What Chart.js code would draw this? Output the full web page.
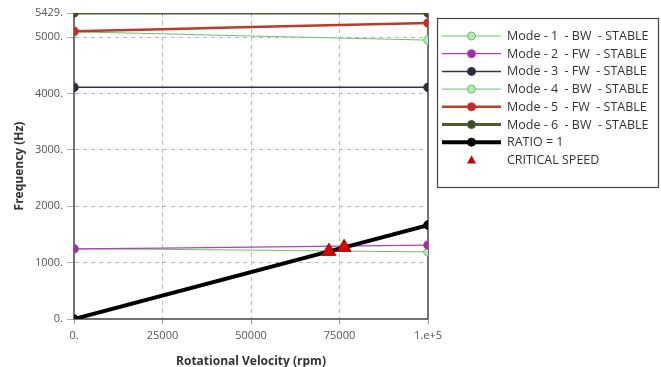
<!DOCTYPE html>
<html>
<head>
<meta charset="utf-8">
<script src="https://cdn.jsdelivr.net/npm/chart.js@4.4.1/dist/chart.umd.min.js"></script>
<style>
html,body{margin:0;padding:0;background:#fff;}
#wrap{width:661px;height:367px;position:relative;}
</style>
</head>
<body>
<div id="wrap"><canvas id="c" width="661" height="367"></canvas></div>
<script>
// ---- data ----
const speeds = [0, 25000, 50000, 75000, 100000];
const mode1 = [1245, 1235, 1222, 1205, 1191];
const mode2 = [1245, 1258, 1275, 1292, 1311];
const mode3 = [4110, 4110, 4110, 4110, 4110];
const mode4 = [5095, 5060, 5020, 4985, 4948];
const mode5 = [5105, 5140, 5180, 5215, 5252];
const mode6 = [5429, 5429, 5429, 5429, 5429];
const ratioSpeeds = [0, 100000];
const ratioFreq = [0, 1666.7];
const criticalSpeeds = [72000, 76300];
const criticalFreq = [1200, 1272];
const seriesLabels = [
  'Mode - 1  - BW  - STABLE',
  'Mode - 2  - FW  - STABLE',
  'Mode - 3  - FW  - STABLE',
  'Mode - 4  - BW  - STABLE',
  'Mode - 5  - FW  - STABLE',
  'Mode - 6  - BW  - STABLE',
  'RATIO = 1',
  'CRITICAL SPEED'
];
const yTicks = [0, 1000, 2000, 3000, 4000, 5000, 5429];
const xTicks = [0, 25000, 50000, 75000, 100000];
const xTickLabels = ['0.', '25000', '50000', '75000', '1.e+5'];

// ---- build ----
const pts = (xs, ys) => xs.map((x, i) => ({x: x, y: ys[i]}));
const endR = r => (ctx) => (ctx.dataIndex === 0 || ctx.dataIndex === ctx.dataset.data.length - 1) ? r : 0;

function lineDs(label, xs, ys, color, fill, width, order) {
  return {
    label: label, data: pts(xs, ys), borderColor: color, backgroundColor: fill,
    borderWidth: width, pointRadius: endR(4.3), pointBorderColor: color,
    pointBackgroundColor: fill, pointBorderWidth: 1, tension: 0, order: order,
    legendLineWidth: width
  };
}

const datasets = [
  lineDs(seriesLabels[0], speeds, mode1, '#6cc06c', '#b8e6b8', 1, 7),
  lineDs(seriesLabels[1], speeds, mode2, '#b43ec4', '#a02cb0', 1.2, 5),
  lineDs(seriesLabels[2], speeds, mode3, '#33334a', '#2a2a3e', 1.5, 4),
  lineDs(seriesLabels[3], speeds, mode4, '#6cc06c', '#b8e6b8', 1, 6),
  lineDs(seriesLabels[4], speeds, mode5, '#c0392b', '#c62a20', 2.5, 3),
  lineDs(seriesLabels[5], speeds, mode6, '#4d5a2c', '#3f4a22', 3, 2),
  lineDs(seriesLabels[6], ratioSpeeds, ratioFreq, '#000000', '#000000', 4, 1),
  {
    label: seriesLabels[7], data: pts(criticalSpeeds, criticalFreq), showLine: false,
    pointStyle: 'triangle', pointRadius: 8, backgroundColor: '#e00000', borderColor: '#b00000',
    pointBackgroundColor: '#e00000', pointBorderColor: '#a00000', pointBorderWidth: 1, order: 0
  }
];

const FONT = '"Open Sans", "DejaVu Sans", sans-serif';

const framePlugin = {
  id: 'frame',
  beforeDatasetsDraw(chart) {
    const a = chart.chartArea, ctx = chart.ctx;
    ctx.save();
    ctx.strokeStyle = '#444';
    ctx.lineWidth = 1.5;
    ctx.beginPath();
    ctx.moveTo(a.left, a.top); ctx.lineTo(a.left, a.bottom); ctx.lineTo(a.right, a.bottom); ctx.lineTo(a.right, a.top);
    ctx.stroke();
    ctx.restore();
  },
  afterDraw(chart) {
    const ctx = chart.ctx;
    ctx.save();
    // legend box
    const bx = 437, by = 18, bw = 221, bh = 169;
    ctx.fillStyle = '#fff';
    ctx.fillRect(bx, by, bw, bh);
    ctx.strokeStyle = '#444'; ctx.lineWidth = 1.2;
    ctx.strokeRect(bx + 0.5, by + 0.5, bw, bh);
    const x0 = 442, x1 = 501, xm = 471.5, tx = 507;
    ctx.font = '12.5px ' + FONT;
    ctx.textBaseline = 'middle';
    chart.data.datasets.forEach((ds, i) => {
      const y = 36 + i * 17.7;
      if (ds.showLine !== false) {
        ctx.strokeStyle = ds.borderColor; ctx.lineWidth = ds.legendLineWidth;
        ctx.beginPath(); ctx.moveTo(x0, y); ctx.lineTo(x1, y); ctx.stroke();
        ctx.beginPath(); ctx.arc(xm, y, 4, 0, Math.PI * 2);
        ctx.fillStyle = ds.pointBackgroundColor; ctx.fill();
        ctx.strokeStyle = ds.borderColor; ctx.lineWidth = 1; ctx.stroke();
      } else {
        ctx.fillStyle = '#c00000';
        ctx.beginPath(); ctx.moveTo(xm, y - 4.5); ctx.lineTo(xm + 4.5, y + 3.5); ctx.lineTo(xm - 4.5, y + 3.5); ctx.closePath(); ctx.fill();
      }
      ctx.fillStyle = '#333';
      ctx.fillText(ds.label, tx, y + 0.5);
    });
    ctx.restore();
  }
};

new Chart(document.getElementById('c'), {
  type: 'line',
  data: { datasets: datasets },
  plugins: [framePlugin],
  options: {
    responsive: false, animation: false, devicePixelRatio: 1,
    layout: { padding: { left: 0, right: 233, top: 13, bottom: 0 } },
    plugins: { legend: { display: false }, tooltip: { enabled: false } },
    scales: {
      x: {
        type: 'linear', min: 0, max: 100000,
        afterBuildTicks: s => { s.ticks = xTicks.map(v => ({value: v})); },
        afterFit: s => { s.height = 48; },
        ticks: {
          callback: (v) => { const i = xTicks.indexOf(v); return i >= 0 ? xTickLabels[i] : ''; },
          color: '#555', font: { family: FONT, size: 11 }, padding: 5, maxRotation: 0, autoSkip: false
        },
        grid: {
          color: (c) => (c.tick && (c.tick.value === 0 || c.tick.value === 100000)) ? 'rgba(0,0,0,0)' : '#b8b8b8',
          tickColor: '#999', tickLength: 5, lineWidth: 1
        },
        border: { display: true, color: 'rgba(0,0,0,0)', dash: [4, 4] },
        title: { display: true, text: 'Rotational Velocity (rpm)', color: '#333', font: { family: FONT, size: 12, weight: 'bold' }, padding: { top: 0, bottom: -2 } }
      },
      y: {
        type: 'linear', min: 0, max: 5429,
        afterBuildTicks: s => { s.ticks = yTicks.map(v => ({value: v})); },
        afterFit: s => { s.width = 74; },
        ticks: {
          callback: (v) => v + '.', color: '#555', font: { family: FONT, size: 11 }, padding: 4, autoSkip: false
        },
        grid: {
          color: (c) => (c.tick && (c.tick.value === 0 || c.tick.value === 5429)) ? 'rgba(0,0,0,0)' : '#b8b8b8',
          tickColor: '#aaa', tickLength: 7, lineWidth: 1
        },
        border: { display: true, color: 'rgba(0,0,0,0)', dash: [4, 4] },
        title: { display: true, text: 'Frequency (Hz)', color: '#333', font: { family: FONT, size: 12, weight: 'bold' }, padding: { top: 12, bottom: 0 } }
      }
    }
  }
});
</script>
</body>
</html>
